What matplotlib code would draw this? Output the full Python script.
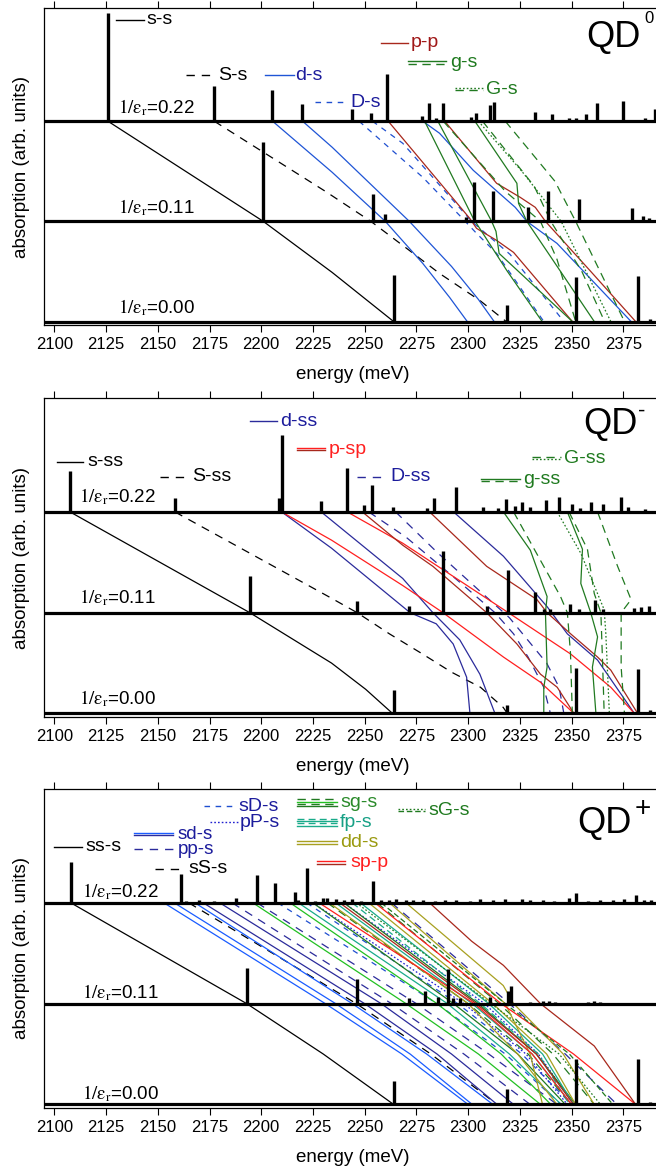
import numpy as np
import matplotlib.pyplot as plt

plt.rcParams['font.family'] = ['Liberation Sans', 'DejaVu Sans']
plt.rcParams['mathtext.fontset'] = 'stix'
plt.rcParams['lines.scale_dashes'] = False

# energy axis (meV)
E_MIN, E_MAX = 2095.0, 2393.1
E_TICKS = list(range(2100, 2376, 25))
# spectra rows: 1/eps_r and the vertical offset (in units of 0.11) of each row
ROW_EPS = [0.22, 0.11, 0.00]
ROW_K = [2, 1, 0]

# ---------------- QD0 ----------------
qd0_e22 = [2125.9, 2177.2, 2205.1, 2219.8, 2244.0, 2253.1, 2260.6, 2277.6, 2281.0, 2284.6, 2287.9, 2301.3,
           2303.8, 2310.6, 2312.5, 2332.2, 2340.6, 2348.7, 2352.0, 2356.9, 2362.2, 2374.7, 2385.3, 2390.6]
qd0_h22 = [1.08, 0.35, 0.31, 0.17, 0.12, 0.08, 0.47, 0.05, 0.18, 0.03, 0.18, 0.04,
           0.08, 0.16, 0.19, 0.09, 0.07, 0.03, 0.03, 0.07, 0.18, 0.20, 0.03, 0.12]
qd0_e11 = [2201.0, 2254.1, 2259.9, 2298.9, 2302.8, 2311.9, 2328.8, 2338.5, 2353.6, 2379.1, 2384.5, 2387.7]
qd0_h11 = [0.79, 0.27, 0.07, 0.04, 0.39, 0.30, 0.14, 0.30, 0.22, 0.13, 0.05, 0.03]
qd0_e00 = [2264.3, 2318.7, 2352.0, 2382.0, 2388.0]
qd0_h00 = [0.46, 0.16, 0.44, 0.45, 0.03]

# level lines: (style, [(energy, k), ...]) with k = (1/eps_r) / 0.11
qd0_lines = [
    ('k-', [(2125.9, 2), (2201.0, 1), (2234.3, 0.49), (2264.0, 0)]),
    ('k--', [(2177.3, 2), (2231.0, 1.30), (2253.0, 1), (2271.6, 0.71), (2286.2, 0.48), (2305.7, 0.21), (2318.4, 0)]),
    ('b-', [(2205.5, 2), (2234.3, 1.49), (2260.0, 1), (2278.1, 0.58), (2291.1, 0.24), (2299.6, 0)]),
    ('b-', [(2220.0, 2), (2234.3, 1.74), (2271.6, 1), (2292.0, 0.55), (2305.0, 0.22), (2312.6, 0)]),
    ('b-', [(2278.1, 2), (2286.2, 1.88), (2302.5, 1.51), (2322.8, 1.14), (2328.4, 1), (2343.0, 0.78), (2378.8, 0)]),
    ('b--', [(2247.3, 2), (2278.1, 1.44), (2296.8, 1.04), (2304.1, 0.88), (2313.8, 0.68), (2336.6, 0)]),
    ('b--', [(2253.8, 2), (2268.4, 1.78), (2301.7, 1), (2305.7, 0.93), (2320.3, 0.67), (2346.3, 0)]),
    ('dr-', [(2261.4, 2), (2300.8, 1.03), (2304.1, 0.93), (2313.8, 0.81), (2322.0, 0.69), (2350.4, 0)]),
    ('dr-', [(2288.7, 2), (2313.8, 1.38), (2325.2, 1.24), (2332.5, 1.14), (2337.4, 1.0), (2359.3, 0.5), (2381.0, 0)]),
    ('g-', [(2279.0, 2), (2302.5, 1.03), (2318.7, 0.51), (2335.8, 0)]),
    ('g-', [(2285.4, 2), (2311.4, 1.0), (2313.5, 0.9), (2315.0, 0.68), (2350.4, 0)]),
    ('g-', [(2303.3, 2), (2323.6, 1.38), (2324.4, 1.18), (2328.4, 1.0), (2361.0, 0)]),
    ('g--', [(2288.0, 2), (2318.0, 1.30), (2335.0, 1.0), (2343.0, 0.62), (2352.0, 0)]),
    ('g--', [(2318.0, 2), (2342.0, 1.40), (2352.0, 1.0), (2375.6, 0)]),
    ('g--', [(2307.0, 2), (2332.0, 1.35), (2340.0, 1.0), (2355.0, 0.5), (2366.0, 0)]),
    ('g:', [(2305.0, 2), (2326.0, 1.5), (2345.0, 1.0), (2369.0, 0)]),
]

# ---------------- QD- ----------------
qdm_e22 = [2107.6, 2158.3, 2208.6, 2209.9, 2229.0, 2241.6, 2249.7, 2253.4, 2263.5, 2280.1, 2283.5, 2294.3, 2307.0,
           2314.6, 2318.2, 2322.8, 2326.3, 2330.1, 2337.9, 2343.9, 2350.4, 2354.1, 2359.3, 2365.3, 2373.9, 2377.2, 2385.3]
qdm_h22 = [0.41, 0.14, 0.14, 0.76, 0.11, 0.44, 0.07, 0.27, 0.05, 0.04, 0.14, 0.25, 0.05,
           0.04, 0.13, 0.06, 0.10, 0.05, 0.12, 0.15, 0.08, 0.04, 0.10, 0.08, 0.15, 0.05, 0.03]
qdm_e11 = [2194.5, 2246.4, 2271.3, 2287.8, 2309.3, 2319.2, 2332.2, 2336.6, 2339.8, 2349.2, 2353.6, 2361.2,
           2365.0, 2380.4, 2383.6, 2387.7, 2392.6]
qdm_h11 = [0.36, 0.12, 0.07, 0.61, 0.07, 0.42, 0.21, 0.04, 0.04, 0.09, 0.04, 0.13,
           0.04, 0.05, 0.06, 0.07, 0.22]
qdm_e00 = [2264.0, 2318.7, 2352.0, 2382.0, 2388.0]
qdm_h00 = [0.23, 0.08, 0.45, 0.44, 0.03]

qdm_lines = [
    ('k-', [(2107.6, 2), (2194.5, 1), (2234.0, 0.5), (2250.5, 0.24), (2263.5, 0)]),
    ('k--', [(2158.3, 2), (2234.3, 1.14), (2246.4, 1), (2262.0, 0.79), (2278.0, 0.59), (2292.0, 0.41),
             (2306.0, 0.26), (2317.0, 0.06), (2319.0, 0)]),
    ('n-', [(2209.9, 2), (2234.0, 1.64), (2272.0, 1.0), (2284.6, 0.89), (2292.8, 0.69), (2299.3, 0.36), (2300.9, 0)]),
    ('n-', [(2229.0, 2), (2268.4, 1.34), (2283.0, 1.0), (2296.0, 0.73), (2305.7, 0.39), (2313.0, 0)]),
    ('n-', [(2293.0, 2), (2317.1, 1.56), (2338.2, 1.06), (2348.0, 0.79), (2362.6, 0.53), (2380.4, 0)]),
    ('n--', [(2252.0, 2), (2270.0, 1.75), (2295.0, 1.32), (2313.0, 1.0), (2322.0, 0.79), (2329.0, 0.56),
             (2336.6, 0.26), (2339.8, 0)]),
    ('n--', [(2265.0, 2), (2285.0, 1.6), (2307.0, 1.19), (2320.0, 0.95), (2330.0, 0.7), (2338.0, 0.5),
             (2344.0, 0.26), (2346.3, 0)]),
    ('R-', [(2209.9, 2), (2234.0, 1.72), (2268.4, 1.27), (2287.9, 1.0), (2317.1, 0.56), (2335.0, 0.31), (2351.2, 0)]),
    ('R-', [(2241.6, 2), (2268.4, 1.69), (2319.5, 1.0), (2349.6, 0.59), (2369.0, 0.26), (2380.4, 0)]),
    ('dr-', [(2248.9, 2), (2268.4, 1.67), (2283.0, 1.46), (2309.0, 1.0), (2317.0, 0.83), (2323.6, 0.69),
             (2335.0, 0.39), (2343.1, 0.26), (2351.2, 0)]),
    ('dr-', [(2281.4, 2), (2309.0, 1.46), (2333.3, 1.13), (2338.2, 1.0), (2349.6, 0.79), (2362.6, 0.56),
             (2369.0, 0.43), (2382.0, 0)]),
    ('g-', [(2317.1, 2), (2330.1, 1.62), (2338.2, 1.16), (2337.4, 1.0), (2338.2, 0.46), (2336.6, 0.26), (2336.6, 0)]),
    ('g-', [(2348.0, 2), (2355.3, 1.63), (2354.5, 1.29), (2359.3, 1.0), (2362.6, 0.76), (2360.1, 0.46), (2361.8, 0)]),
    ('g--', [(2322.0, 2), (2336.6, 1.46), (2344.7, 1.16), (2348.0, 1.0), (2349.5, 0.6), (2350.4, 0)]),
    ('g--', [(2348.8, 2), (2357.7, 1.63), (2361.0, 1.19), (2364.2, 1.0), (2365.0, 0.52), (2365.8, 0)]),
    ('g--', [(2362.6, 2), (2372.3, 1.46), (2378.8, 1.13), (2374.0, 1.0), (2374.0, 0.46), (2375.6, 0)]),
    ('g:', [(2343.1, 2), (2354.5, 1.59), (2365.8, 1.03), (2366.6, 0.79), (2368.3, 0)]),
]

# ---------------- QD+ ----------------
qdp_e22 = [2108.0, 2161.2, 2163.5, 2170.0, 2177.0, 2188.0, 2197.8, 2206.7, 2216.1, 2218.0, 2222.1, 2226.0, 2230.0,
           2232.0, 2236.0, 2240.0, 2244.0, 2248.0, 2253.8, 2258.0, 2262.0, 2265.0, 2270.0, 2273.2, 2278.0, 2284.0,
           2288.7, 2294.0, 2300.8, 2306.0, 2312.0, 2318.0, 2326.0, 2330.0, 2336.0, 2341.4, 2348.7, 2352.0, 2358.0,
           2364.0, 2370.0, 2375.5, 2381.2, 2385.0, 2388.5]
qdp_h22 = [0.41, 0.29, 0.02, 0.03, 0.02, 0.05, 0.28, 0.20, 0.11, 0.03, 0.35, 0.02, 0.05,
           0.05, 0.04, 0.03, 0.04, 0.02, 0.22, 0.03, 0.03, 0.04, 0.03, 0.03, 0.03, 0.02,
           0.03, 0.03, 0.02, 0.04, 0.03, 0.04, 0.04, 0.03, 0.03, 0.02, 0.05, 0.10, 0.02,
           0.03, 0.03, 0.04, 0.08, 0.03, 0.03]
qdp_e11 = [2192.9, 2246.4, 2271.3, 2279.0, 2285.4, 2290.3, 2292.7, 2296.3, 2310.6, 2319.5, 2320.9, 2330.0,
           2336.0, 2339.0, 2342.0, 2358.0, 2361.0, 2364.0]
qdp_h11 = [0.35, 0.24, 0.06, 0.13, 0.07, 0.34, 0.06, 0.06, 0.07, 0.13, 0.18, 0.02,
           0.03, 0.03, 0.02, 0.02, 0.03, 0.02]
qdp_e00 = [2264.3, 2318.7, 2352.0, 2382.0, 2388.0]
qdp_h00 = [0.23, 0.15, 0.45, 0.45, 0.02]

qdp_lines = [
    ('k-', [(2108.0, 2), (2193.0, 1), (2230.0, 0.5), (2264.0, 0)]),
    ('k--', [(2165.0, 2), (2246.0, 1), (2282.0, 0.5), (2314.0, 0)]),
    ('lb-', [(2153.0, 2), (2231.0, 1), (2268.0, 0.5), (2300.0, 0)]),
    ('lb-', [(2158.0, 2), (2236.0, 1), (2272.0, 0.5), (2302.0, 0)]),
    ('lb-', [(2168.0, 2), (2244.0, 1), (2280.0, 0.5), (2312.0, 0)]),
    ('n-', [(2172.0, 2), (2250.0, 1), (2285.0, 0.5), (2314.0, 0)]),
    ('n-', [(2180.0, 2), (2258.0, 1), (2292.0, 0.5), (2322.0, 0)]),
    ('n--', [(2186.0, 2), (2263.0, 1), (2298.0, 0.5), (2330.0, 0)]),
    ('n--', [(2198.0, 2), (2275.0, 1), (2310.0, 0.5), (2343.0, 0)]),
    ('n--', [(2263.0, 2), (2320.0, 1), (2347.0, 0.5), (2372.0, 0)]),
    ('b--', [(2208.0, 2), (2285.0, 1), (2318.0, 0.5), (2345.0, 0)]),
    ('b--', [(2222.0, 2), (2295.0, 1), (2326.0, 0.5), (2350.0, 0)]),
    ('b:', [(2225.0, 2), (2298.0, 1), (2328.0, 0.5), (2348.0, 0)]),
    ('b:', [(2240.0, 2), (2308.0, 1), (2334.0, 0.5), (2351.0, 0)]),
    ('lime-', [(2196.0, 2), (2270.0, 1), (2305.0, 0.5), (2335.0, 0)]),
    ('lime-', [(2214.0, 2), (2285.0, 1), (2316.0, 0.5), (2340.0, 0)]),
    ('g-', [(2225.0, 2), (2293.0, 1), (2324.0, 0.5), (2347.0, 0)]),
    ('g-', [(2240.0, 2), (2305.0, 1), (2333.0, 0.5), (2352.0, 0)]),
    ('g--', [(2232.0, 2), (2300.0, 1), (2329.0, 0.5), (2350.0, 0)]),
    ('g--', [(2256.0, 2), (2315.0, 1), (2341.0, 0.5), (2361.0, 0)]),
    ('teal-', [(2218.0, 2), (2290.0, 1), (2320.0, 0.5), (2345.0, 0)]),
    ('teal-', [(2236.0, 2), (2302.0, 1), (2331.0, 0.5), (2350.0, 0)]),
    ('teal-', [(2248.0, 2), (2310.0, 1), (2336.0, 0.5), (2351.0, 0)]),
    ('teal--', [(2244.0, 2), (2306.0, 1), (2334.0, 0.5), (2349.0, 0)]),
    ('ol-', [(2233.0, 2), (2300.0, 1), (2324.0, 0.5), (2343.0, 0)]),
    ('ol-', [(2252.0, 2), (2312.0, 1), (2338.0, 0.5), (2352.0, 0)]),
    ('ol-', [(2262.0, 2), (2318.0, 1), (2330.0, 0.5), (2336.0, 0)]),
    ('ol-', [(2270.0, 2), (2317.0, 1.18), (2322.0, 1), (2346.0, 0.5), (2361.0, 0)]),
    ('R-', [(2228.0, 2), (2303.0, 1), (2331.0, 0.5), (2350.0, 0)]),
    ('R-', [(2255.0, 2), (2316.0, 1), (2351.0, 0.5), (2381.0, 0)]),
    ('dr-', [(2238.0, 2), (2304.0, 1), (2333.0, 0.5), (2351.0, 0)]),
    ('dr-', [(2281.4, 2), (2301.7, 1.62), (2317.1, 1.38), (2335.0, 1), (2361.0, 0.58), (2381.0, 0)]),
    ('dg:', [(2246.0, 2), (2311.0, 1), (2344.0, 0.5), (2364.0, 0)]),
    ('dg--', [(2258.0, 2), (2318.0, 1), (2349.0, 0.5), (2370.0, 0)]),
]

STYLES = {
    'k-': ('black', '-'), 'k--': ('black', (0, (6, 5))),
    'b-': ('#1f55d6', '-'), 'b--': ('#1f4fd0', (0, (4, 4))), 'b:': ('#2020d0', (0, (1.2, 1.5))),
    'lb-': ('#1a5cff', '-'), 'n-': ('#2b2b9b', '-'), 'n--': ('#2b2b9b', (0, (6, 5))),
    'dr-': ('#a8281c', '-'), 'R-': ('#ff1f1f', '-'),
    'g-': ('#217a21', '-'), 'g--': ('#217a21', (0, (6, 4))), 'g:': ('#217a21', (0, (1.2, 1.5))),
    'lime-': ('#22c022', '-'), 'teal-': ('#1aab8a', '-'), 'teal--': ('#1aab8a', (0, (5, 3))),
    'ol-': ('#a8a020', '-'), 'dg:': ('#1f7a1f', (0, (1.2, 1.5))), 'dg--': ('#1f7a1f', (0, (4, 2))),
}

BLUE_TXT, RED_TXT, GREEN_TXT = '#1c1c9c', '#a01818', '#1f7a1f'


def key(ax, e0, e1, k, styles, text, color, tx, size=14):
    n = len(styles)
    for i, s in enumerate(styles):
        c, ls = STYLES[s]
        kk = k + ((n - 1) / 2 - i) * 0.022
        ax.plot([e0, e1], [kk, kk], color=c, ls=ls, lw=1.0)
    ax.text(tx, k, text, color=color, fontsize=size, va='center', ha='left')


def panel(rect, spectra, lines, label_e, label_dk, qd, sup):
    ax = fig.add_axes(rect)
    for s, pts in lines:
        c, ls = STYLES[s]
        e, k = zip(*pts)
        ax.plot(e, k, color=c, ls=ls, lw=0.9, zorder=2)
    for (e, h), k0, eps in zip(spectra, ROW_K, ROW_EPS):
        ax.plot([E_MIN, E_MAX], [k0, k0], color='black', lw=2.3, zorder=3, solid_capstyle='butt')
        ax.vlines(e, k0, k0 + np.array(h), color='black', lw=2.4, zorder=3)
        ax.text(label_e, k0 + label_dk, r'$\mathrm{1/\varepsilon_r}$=%.2f' % eps, fontsize=13.5,
                va='center', ha='left')
    ax.text(qd[0], qd[1], 'QD', fontsize=26, va='center', ha='left')
    ax.text(sup[0], sup[1], sup[2], fontsize=sup[3], va='center', ha='left')
    ax.set_xlim(E_MIN, E_MAX)
    ax.set_ylim(-0.035, 3.13)
    ax.set_yticks([])
    ax.set_xticks(E_TICKS)
    ax.tick_params(axis='x', direction='out', top=True, length=5, width=0.8, labelsize=12, pad=3.5)
    ax.set_xlabel('energy (meV)', fontsize=13.5, labelpad=10)
    ax.set_ylabel('absorption (arb. units)', fontsize=13.5)
    ax.yaxis.set_label_coords(-0.022, 0.5)
    for sp in ax.spines.values():
        sp.set_linewidth(0.9)
    return ax


fig = plt.figure(figsize=(6.56, 11.67), dpi=100)

# QD0
ax1 = panel([0.0671, 0.7215, 0.94, 0.2716],
            [(qd0_e22, qd0_h22), (qd0_e11, qd0_h11), (qd0_e00, qd0_h00)],
            qd0_lines, 2131, 0.14, (2357.0, 2.84), (2385.0, 3.03, '0', 12))
key(ax1, 2129.6, 2143.3, 3.015, ['k-'], 's-s', 'black', 2144.7)
key(ax1, 2163.7, 2177.3, 2.458, ['k--'], 'S-s', 'black', 2179.2)
key(ax1, 2201.6, 2215.7, 2.458, ['b-'], 'd-s', BLUE_TXT, 2216.2)
key(ax1, 2226.0, 2241.6, 2.19, ['b--'], 'D-s', BLUE_TXT, 2243.1)
key(ax1, 2257.7, 2270.8, 2.786, ['dr-'], 'p-p', RED_TXT, 2272.3)
key(ax1, 2270.8, 2289.3, 2.587, ['g-', 'g--'], 'g-s', GREEN_TXT, 2291.3)
key(ax1, 2293.7, 2307.4, 2.318, ['g:', 'g--'], 'G-s', GREEN_TXT, 2308.8)

# QD-
ax2 = panel([0.0671, 0.3856, 0.94, 0.2733],
            [(qdm_e22, qdm_h22), (qdm_e11, qdm_h11), (qdm_e00, qdm_h00)],
            qdm_lines, 2112, 0.15, (2355.5, 2.87), (2382.0, 3.0, '-', 16))
key(ax2, 2101.3, 2114.0, 2.5, ['k-'], 's-ss', 'black', 2116.0)
key(ax2, 2151.0, 2164.6, 2.348, ['k--'], 'S-ss', 'black', 2166.6)
key(ax2, 2194.8, 2207.5, 2.898, ['n-'], 'd-ss', BLUE_TXT, 2209.0)
key(ax2, 2217.3, 2230.9, 2.624, ['R-', 'dr-'], 'p-sp', '#ff2020', 2232.8)
key(ax2, 2246.4, 2260.0, 2.351, ['n--'], 'D-ss', BLUE_TXT, 2262.5)
key(ax2, 2330.7, 2344.8, 2.534, ['g--', 'g:'], 'G-ss', GREEN_TXT, 2346.3)
key(ax2, 2306.3, 2325.3, 2.318, ['g-', 'g--'], 'g-ss', GREEN_TXT, 2326.8)

# QD+
ax3 = panel([0.0671, 0.0506, 0.94, 0.2733],
            [(qdp_e22, qdp_h22), (qdp_e11, qdp_h11), (qdp_e00, qdp_h00)],
            qdp_lines, 2113.5, 0.11, (2353.0, 2.79), (2380.5, 2.93, '+', 20))
key(ax3, 2100.0, 2113.5, 2.557, ['k-'], 'ss-s', 'black', 2115.0)
key(ax3, 2138.3, 2157.3, 2.68, ['lb-', 'n-'], 'sd-s', BLUE_TXT, 2159.3, 13.5)
key(ax3, 2138.3, 2157.3, 2.53, ['n--'], 'pp-s', BLUE_TXT, 2159.8, 13.5)
key(ax3, 2148.5, 2162.6, 2.338, ['k--'], 'sS-s', 'black', 2164.6)
key(ax3, 2172.4, 2186.6, 2.958, ['b--'], 'sD-s', BLUE_TXT, 2189.0)
key(ax3, 2175.4, 2189.0, 2.799, ['b:'], 'pP-s', BLUE_TXT, 2189.5)
key(ax3, 2217.3, 2236.7, 2.995, ['g--', 'lime-', 'g--', 'g-'], 'sg-s', '#2a8a2a', 2238.2)
key(ax3, 2217.3, 2236.7, 2.80, ['teal--', 'teal-', 'teal--', 'teal-'], 'fp-s', '#16a085', 2238.2)
key(ax3, 2217.3, 2236.7, 2.60, ['ol-', 'ol-'], 'dd-s', '#9a9a10', 2238.2)
key(ax3, 2227.0, 2240.6, 2.40, ['R-', 'dr-'], 'sp-p', '#ff2020', 2243.0)
key(ax3, 2265.9, 2279.0, 2.918, ['dg:', 'dg--'], 'sG-s', GREEN_TXT, 2281.0)

fig.savefig('out.png', dpi=100)
